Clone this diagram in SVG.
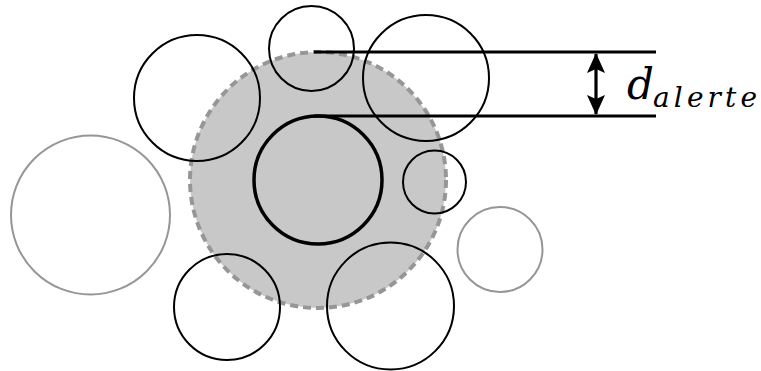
<svg xmlns="http://www.w3.org/2000/svg" width="761" height="371" viewBox="0 0 761 371">
<style>
.c{fill:none;stroke:#000;stroke-width:2}
.g{fill:none;stroke:#969696;stroke-width:2}
.ln{stroke:#000;stroke-width:3.2}
</style>
<defs>
<marker id="ah" viewBox="0 0 20 20" refX="19" refY="10" markerWidth="20" markerHeight="20" markerUnits="userSpaceOnUse" orient="auto-start-reverse">
<path d="M0,1 L20,10 L0,19 L4,10 Z" fill="#000"/>
</marker>
</defs>
<g id="zone"><circle cx="318" cy="180" r="128" fill="#c8c8c8" stroke="#969696" stroke-width="4" stroke-dasharray="8,5"/></g>
<g id="center"><circle cx="318" cy="180" r="64" fill="none" stroke="#000" stroke-width="3.5"/></g>
<g id="n-top"><circle class="c" cx="311.5" cy="48.5" r="42.5"/></g>
<g id="n-topleft"><circle class="c" cx="197" cy="98" r="63"/></g>
<g id="n-topright"><circle class="c" cx="426" cy="78" r="63"/></g>
<g id="n-right"><circle class="c" cx="434.5" cy="182" r="31.5"/></g>
<g id="n-left"><circle class="g" cx="90.5" cy="215" r="79.5"/></g>
<g id="n-rightgray"><circle class="g" cx="500" cy="249.5" r="42.5"/></g>
<g id="n-bottomleft"><circle class="c" cx="227" cy="307" r="53"/></g>
<g id="n-bottomright"><circle class="c" cx="390.5" cy="306" r="63.5"/></g>
<g id="connectors">
<line class="ln" x1="314" y1="52" x2="656" y2="52"/>
<line class="ln" x1="314" y1="116" x2="656" y2="116"/>
<line x1="596" y1="54" x2="596" y2="114" stroke="#000" stroke-width="3.2" marker-start="url(#ah)" marker-end="url(#ah)"/>
</g>
<g id="label" font-family="'DejaVu Serif', 'Liberation Serif', serif" font-style="italic" fill="#000">
<text x="627" y="99" font-size="42">d</text>
<text x="653" y="107" font-size="28" textLength="104" lengthAdjust="spacing">alerte</text>
</g>
</svg>
